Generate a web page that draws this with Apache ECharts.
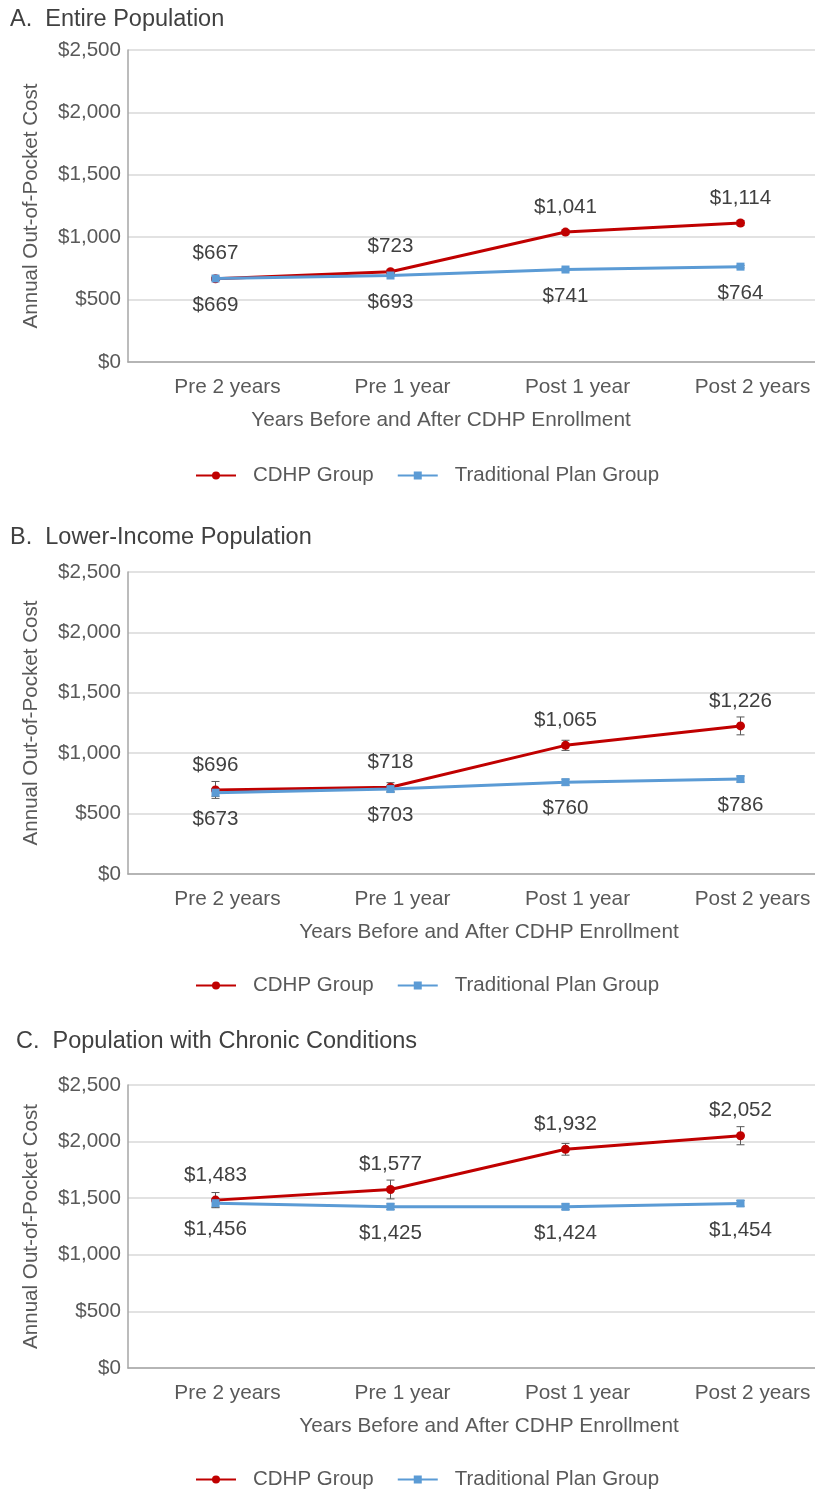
<!DOCTYPE html>
<html>
<head>
<meta charset="utf-8">
<script src="https://cdn.jsdelivr.net/npm/echarts@6/dist/echarts.min.js"></script>
<style>
    html, body { margin: 0; padding: 0; background: #fff; }
    #chart { width: 815px; height: 1490px; }
</style>
</head>
<body>
<div id="chart"></div>
<script>
// categories and tick labels
var categories = ['Pre 2 years', 'Pre 1 year', 'Post 1 year', 'Post 2 years'];
var yTicks = [0, 500, 1000, 1500, 2000, 2500];

// A. Entire Population
var cdhpA = [667, 723, 1041, 1114];
var tradA = [669, 693, 741, 764];
var cdhpErrA = [12, 15, 18, 20];
var tradErrA = [8, 8, 10, 10];

// B. Lower-Income Population
var cdhpB = [696, 718, 1065, 1226];
var tradB = [673, 703, 760, 786];
var cdhpErrB = [70, 38, 42, 74];
var tradErrB = [30, 25, 25, 25];

// C. Population with Chronic Conditions
var cdhpC = [1483, 1577, 1932, 2052];
var tradC = [1456, 1425, 1424, 1454];
var cdhpErrC = [67, 83, 52, 80];
var tradErrC = [35, 25, 25, 25];

var RED = '#C00000';
var BLUE = '#5B9BD5';
var TEXT = '#595959';
var FONT = '"Liberation Sans", Arial, sans-serif';

function money(v) {
    return '$' + String(v).replace(/\B(?=(\d{3})+(?!\d))/g, ',');
}

var panels = [
    { title: 'A.  Entire Population', titleLeft: 10, titleTop: 8, top: 50, height: 312, legendTop: 465, nameShift: [0, 74, 0, 0],
      cdhp: cdhpA, trad: tradA, cdhpErr: cdhpErrA, tradErr: tradErrA },
    { title: 'B.  Lower-Income Population', titleLeft: 10, titleTop: 526, top: 572, height: 302, legendTop: 975, nameShift: [0, 0, 0, 22],
      cdhp: cdhpB, trad: tradB, cdhpErr: cdhpErrB, tradErr: tradErrB },
    { title: 'C.  Population with Chronic Conditions', titleLeft: 16, titleTop: 1030, top: 1085, height: 283, legendTop: 1469, nameShift: [0, 0, 0, 22],
      cdhp: cdhpC, trad: tradC, cdhpErr: cdhpErrC, tradErr: tradErrC }
];

function errorBars(name, idx, values, errs) {
    return {
        type: 'custom',
        name: name,
        xAxisIndex: idx,
        yAxisIndex: idx,
        z: 1,
        silent: true,
        data: values.map(function(v, i) { return [i, v, errs[i]]; }),
        encode: { x: 0, y: 1 },
        renderItem: function(params, api) {
            var x = api.value(0), y = api.value(1), e = api.value(2);
            var hi = api.coord([x, y + e]);
            var lo = api.coord([x, y - e]);
            var w = 4;
            var style = { stroke: '#595959', lineWidth: 1 };
            return {
                type: 'group',
                children: [
                    { type: 'line', shape: { x1: hi[0], y1: hi[1], x2: lo[0], y2: lo[1] }, style: style },
                    { type: 'line', shape: { x1: hi[0] - w, y1: hi[1], x2: hi[0] + w, y2: hi[1] }, style: style },
                    { type: 'line', shape: { x1: lo[0] - w, y1: lo[1], x2: lo[0] + w, y2: lo[1] }, style: style }
                ]
            };
        }
    };
}

var option = {
    backgroundColor: '#fff',
    animation: false,
    textStyle: { fontFamily: FONT },
    title: [],
    legend: [],
    grid: [],
    xAxis: [],
    yAxis: [],
    series: []
};

panels.forEach(function(p, idx) {
    option.title.push({
        text: p.title, left: p.titleLeft, top: p.titleTop, padding: 0,
        textStyle: { fontFamily: FONT, fontSize: 23.5, fontWeight: 'normal', color: '#404040' }
    });
    option.legend.push({
        data: ['CDHP Group', 'Traditional Plan Group'],
        left: 195, top: p.legendTop, padding: 0,
        itemWidth: 40, itemHeight: 10, itemGap: 23,
        textStyle: { fontFamily: FONT, fontSize: 20.5, color: TEXT, padding: [0, 0, 0, 12] }
    });
    // plot area runs a little past the right edge, as in the reference
    option.grid.push({ left: 128, width: 700, top: p.top, height: p.height, outerBoundsMode: 'none', containLabel: false });
    option.xAxis.push({
        type: 'category', gridIndex: idx, data: categories, boundaryGap: true,
        name: 'Years Before and After CDHP Enrollment', nameLocation: 'middle', nameGap: 48,
        nameTextStyle: { fontFamily: FONT, fontSize: 20.8, color: TEXT, padding: p.nameShift },
        axisLine: { lineStyle: { color: '#a6a6a6', width: 1.5 } },
        axisTick: { show: false },
        axisLabel: { fontFamily: FONT, fontSize: 20.8, color: TEXT, margin: 15, padding: [0, 0, 0, 24] }
    });
    option.yAxis.push({
        type: 'value', gridIndex: idx, min: yTicks[0], max: yTicks[yTicks.length - 1], interval: 500,
        name: 'Annual Out-of-Pocket Cost', nameLocation: 'middle', nameGap: 86,
        nameTextStyle: { fontFamily: FONT, fontSize: 20.6, color: TEXT },
        axisLine: { show: true, lineStyle: { color: '#a6a6a6', width: 1.5 } },
        axisTick: { show: false },
        splitLine: { lineStyle: { color: '#d9d9d9', width: 1.5 } },
        axisLabel: { fontFamily: FONT, fontSize: 20.6, color: TEXT, margin: 7, formatter: money }
    });
    option.series.push({
        type: 'line', name: 'CDHP Group', xAxisIndex: idx, yAxisIndex: idx, data: p.cdhp,
        color: RED, symbol: 'circle', symbolSize: 9, z: 4,
        lineStyle: { color: RED, width: 3 },
        itemStyle: { color: RED },
        label: { show: true, position: 'top', distance: 10, fontFamily: FONT, fontSize: 20.6, color: '#404040',
                 formatter: function(d) { return money(d.value); } }
    });
    option.series.push({
        type: 'line', name: 'Traditional Plan Group', xAxisIndex: idx, yAxisIndex: idx, data: p.trad,
        color: BLUE, symbol: 'rect', symbolSize: 8, z: 5,
        lineStyle: { color: BLUE, width: 3 },
        itemStyle: { color: BLUE },
        label: { show: true, position: 'bottom', distance: 12, fontFamily: FONT, fontSize: 20.6, color: '#404040',
                 formatter: function(d) { return money(d.value); } }
    });
    option.series.push(errorBars('CDHP error ' + idx, idx, p.cdhp, p.cdhpErr));
    option.series.push(errorBars('Traditional error ' + idx, idx, p.trad, p.tradErr));
});

var chart = echarts.init(document.getElementById('chart'), null, { renderer: 'canvas' });
chart.setOption(option);
</script>
</body>
</html>
